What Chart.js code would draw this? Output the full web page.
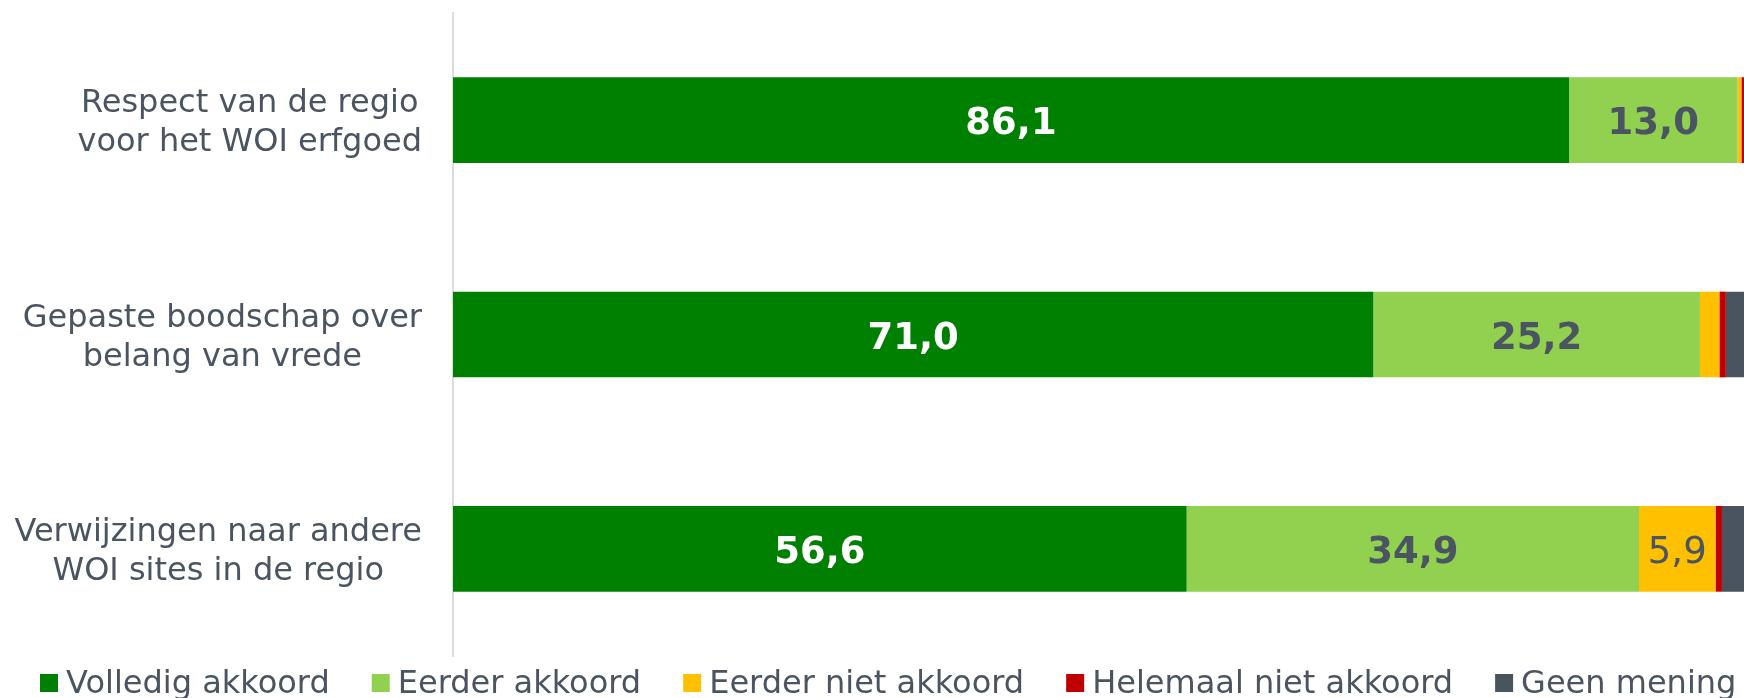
<!DOCTYPE html>
<html>
<head>
<meta charset="utf-8">
<title>WOI erfgoed</title>
<script src="https://cdn.jsdelivr.net/npm/chart.js@4/dist/chart.umd.min.js"></script>
<style>
  html, body { margin: 0; padding: 0; background: #ffffff; overflow: hidden; }
  #wrap { width: 1744px; height: 698px; position: relative; }
</style>
</head>
<body>
<div id="wrap"><canvas id="chart"></canvas></div>
<script>
const categories = [
  ["Respect van de regio", "voor het WOI erfgoed"],
  ["Gepaste boodschap over", "belang van vrede"],
  ["Verwijzingen naar andere", "WOI sites in de regio"],
];

const seriesNames = [
  "Volledig akkoord",
  "Eerder akkoord",
  "Eerder niet akkoord",
  "Helemaal niet akkoord",
  "Geen mening",
];

const volledigAkkoord = [86.1, 71.0, 56.6];
const eerderAkkoord = [13.0, 25.2, 34.9];
const eerderNietAkkoord = [0.3, 1.5, 5.9];
const helemaalNietAkkoord = [0.6, 0.5, 0.5];
const geenMening = [0.0, 1.8, 2.1];

const seriesValues = [
  volledigAkkoord,
  eerderAkkoord,
  eerderNietAkkoord,
  helemaalNietAkkoord,
  geenMening,
];

// the original picture is cut just before the 100 % mark
const xMax = 99.6;

const seriesColors = ["#008000", "#92d050", "#ffc000", "#c00000", "#4a545e"];
const valueLabelColors = ["#ffffff", "#4a5561", "#4a5561", "#ffffff", "#ffffff"];
const valueLabelBold = [true, true, false, false, false];
const minLabelValue = 3;

const TEXT = "#4a5561";
const FONT = "'DejaVu Sans', Verdana, sans-serif";

function asLabel(value) {
  return value.toFixed(1).replace(".", ",");
}

// category names: block right aligned next to the axis, lines centered inside it
const categoryLabels = {
  id: "categoryLabels",
  afterDraw(chart) {
    const { ctx } = chart;
    const yScale = chart.scales.y;
    const rightEdge = yScale.right - 31;
    ctx.save();
    ctx.font = `32px ${FONT}`;
    ctx.fillStyle = TEXT;
    ctx.textAlign = "center";
    ctx.textBaseline = "alphabetic";
    categories.forEach((lines, i) => {
      const center = yScale.getPixelForValue(i);
      const widest = Math.max(...lines.map((l) => ctx.measureText(l).width));
      const cx = rightEdge - widest / 2;
      lines.forEach((line, j) => {
        const offset = (j - (lines.length - 1) / 2) * 39 + 11.5;
        ctx.fillText(line, cx, center + offset);
      });
    });
    ctx.restore();
  },
};

const valueLabels = {
  id: "valueLabels",
  afterDatasetsDraw(chart) {
    const { ctx } = chart;
    ctx.save();
    ctx.textAlign = "center";
    ctx.textBaseline = "alphabetic";
    chart.data.datasets.forEach((ds, di) => {
      const meta = chart.getDatasetMeta(di);
      ctx.font = `${valueLabelBold[di] ? "bold " : ""}37px ${FONT}`;
      ctx.fillStyle = valueLabelColors[di];
      meta.data.forEach((bar, i) => {
        const value = ds.data[i];
        if (value < minLabelValue) return;
        const x = (bar.x + bar.base) / 2;
        ctx.fillText(asLabel(value), x, bar.y + 14);
      });
    });
    ctx.restore();
  },
};

const bottomLegend = {
  id: "bottomLegend",
  afterDraw(chart) {
    const { ctx } = chart;
    const baseline = chart.height - 5;
    const boxTop = chart.height - 24;
    let x = 40;
    ctx.save();
    ctx.font = `32px ${FONT}`;
    ctx.textAlign = "left";
    ctx.textBaseline = "alphabetic";
    chart.data.datasets.forEach((ds) => {
      ctx.fillStyle = ds.backgroundColor;
      ctx.fillRect(x, boxTop, 18, 18);
      ctx.fillStyle = TEXT;
      ctx.fillText(ds.label, x + 26, baseline);
      x += 26 + ctx.measureText(ds.label).width + 42;
    });
    ctx.restore();
  },
};

new Chart(document.getElementById("chart"), {
  type: "bar",
  data: {
    labels: categories.map((lines) => lines.join(" ")),
    datasets: seriesNames.map((name, i) => ({
      label: name,
      data: seriesValues[i],
      backgroundColor: seriesColors[i],
      borderWidth: 0,
      categoryPercentage: 1,
      barPercentage: 0.4,
    })),
  },
  options: {
    indexAxis: "y",
    responsive: true,
    maintainAspectRatio: false,
    animation: false,
    layout: { padding: { top: 13, bottom: 42, left: 0, right: 0 } },
    plugins: {
      legend: { display: false },
      tooltip: { enabled: false },
    },
    scales: {
      x: { stacked: true, min: 0, max: xMax, display: false },
      y: {
        stacked: true,
        grid: { display: false },
        ticks: { display: false },
        border: { display: true, color: "#d9dde1", width: 2 },
        afterFit(scale) {
          scale.width = 453;
        },
      },
    },
  },
  plugins: [categoryLabels, valueLabels, bottomLegend],
});
</script>
</body>
</html>
